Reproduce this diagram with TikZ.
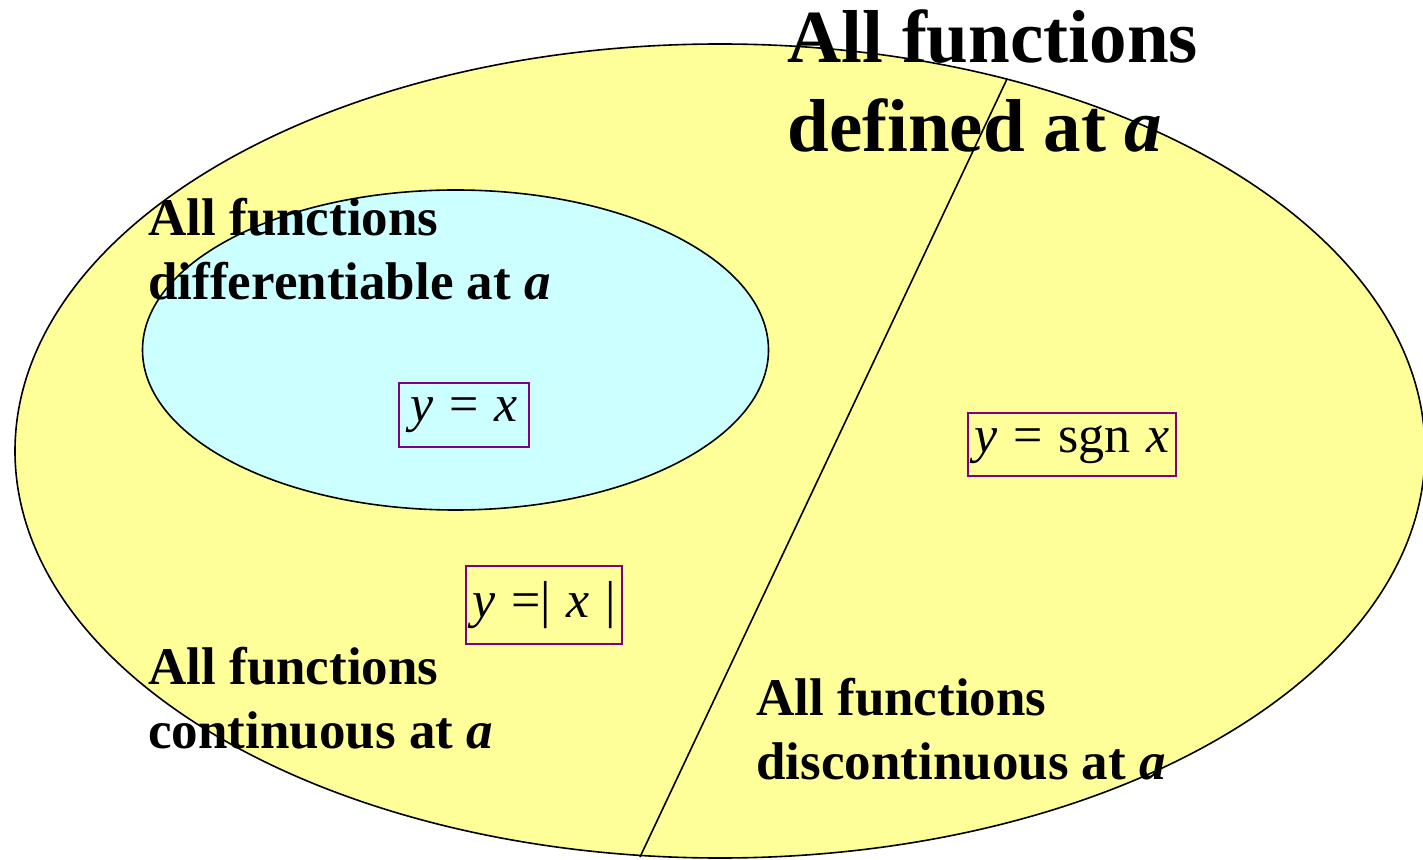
\documentclass[tikz,border=0pt]{standalone}
\usepackage{fontspec}
\setmainfont{Liberation Serif}
\definecolor{setyellow}{HTML}{FFFF99}
\definecolor{setcyan}{HTML}{CCFFFF}
\definecolor{boxpurple}{HTML}{800080}
\tikzset{
  bigtext/.style={anchor=base west, inner sep=0pt, font=\fontsize{37.5}{44}\selectfont\bfseries},
  settext/.style={anchor=base west, inner sep=0pt, font=\fontsize{26.5}{32}\selectfont\bfseries},
  fnbox/.style={draw=boxpurple, line width=0.7pt, inner sep=0pt, font=\fontsize{26}{30}\selectfont},
  setline/.style={draw=black, line width=0.8pt}
}
\newcommand{\wsp}{\hspace{0.3em}}
\begin{document}
\begin{tikzpicture}[x=0.5pt, y=-0.5pt]
\useasboundingbox (0,0) rectangle (1423,860);
% sets
\path[setline, fill=setyellow] (720,451) ellipse [x radius=352.5pt, y radius=203.5pt];
\path[setline, fill=setcyan] (455.5,350) ellipse [x radius=156.5pt, y radius=80pt];
\coordinate (lt) at (1007,79);
\coordinate (lb) at (640,857);
\draw[setline] (lt) -- (lb);
% function boxes
\node[fnbox, minimum width=65pt, minimum height=32pt] (bx) at (464,415) {\textit{y}\wsp=\wsp\textit{x}};
\node[fnbox, minimum width=78pt, minimum height=39pt] (babs) at (544,605) {\textit{y}\wsp=|\wsp\textit{x}\wsp|};
\node[fnbox, minimum width=104pt, minimum height=31.5pt] (bsgn) at (1072,444.5) {\textit{y}\wsp=\wsp sgn\wsp\textit{x}};
% labels
\node[bigtext] (all1) at (787,63) {All functions};
\node[bigtext] (all2) at (787,152) {defined at \textit{a}};
\node[settext] (diff1) at (148,236) {All functions};
\node[settext] (diff2) at (148,300) {differentiable at \textit{a}};
\node[settext] (cont1) at (148,684) {All functions};
\node[settext] (cont2) at (148,748) {continuous at \textit{a}};
\node[settext] (disc1) at (756,715) {All functions};
\node[settext] (disc2) at (756,779) {discontinuous at \textit{a}};
\end{tikzpicture}
\end{document}
